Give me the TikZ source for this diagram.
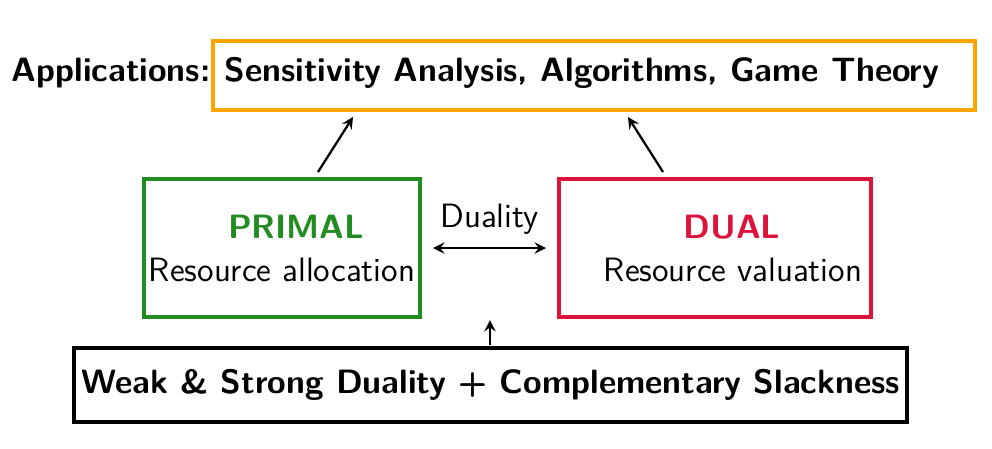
\documentclass[tikz,border=0pt]{standalone}
\definecolor{pgreen}{RGB}{34,139,34}
\definecolor{dred}{RGB}{220,20,60}
\definecolor{aorange}{RGB}{255,165,0}
\begin{document}
\begin{tikzpicture}[x=0.0125cm,y=-0.0125cm,font=\sffamily\fontsize{12}{14}\selectfont,
  box/.style={draw,line width=1.2pt,inner sep=0pt},
  arr/.style={->,line width=0.8pt,>=stealth}]
\useasboundingbox (0,0) rectangle (992,448);
\node[box,draw=aorange,minimum width=9.525cm,minimum height=0.8625cm] (app) at (594,75.5) {};
\node at (582,73) (apptxt) {\bfseries Sensitivity Analysis, Algorithms, Game Theory};
\node[anchor=east,inner sep=0pt] (applab) at (211,73) {\bfseries Applications:};
\node[box,draw=pgreen,minimum width=3.45cm,minimum height=1.725cm] (primal) at (282,248) {};
\node (ptitle) at (296,227) {\bfseries\color{pgreen}PRIMAL};
\node (ptxt) at (282,270) {Resource allocation};
\node[box,draw=dred,minimum width=3.9cm,minimum height=1.725cm] (dual) at (715,248) {};
\node (dtitle) at (732,227) {\bfseries\color{dred}DUAL};
\node (dtxt) at (733,270) {Resource valuation};
\node[box,draw=black,minimum width=10.41cm,minimum height=0.925cm] (bot) at (490.5,385) {};
\node (btxt) at (490.5,385) {\bfseries Weak \& Strong Duality + Complementary Slackness};
\coordinate (a1) at (318,172); \coordinate (b1) at (353,117);
\coordinate (a2) at (663,172); \coordinate (b2) at (628,117);
\draw[arr] (a1) -- (b1);
\draw[arr] (a2) -- (b2);
\coordinate (d1) at (433,248); \coordinate (d2) at (546,248);
\draw[arr,<->] (d1) -- node[above=1pt] (dl) {Duality} (d2);
\coordinate (u1) at (490,345); \coordinate (u2) at (490,320);
\draw[arr] (u1) -- (u2);
\end{tikzpicture}
\end{document}
